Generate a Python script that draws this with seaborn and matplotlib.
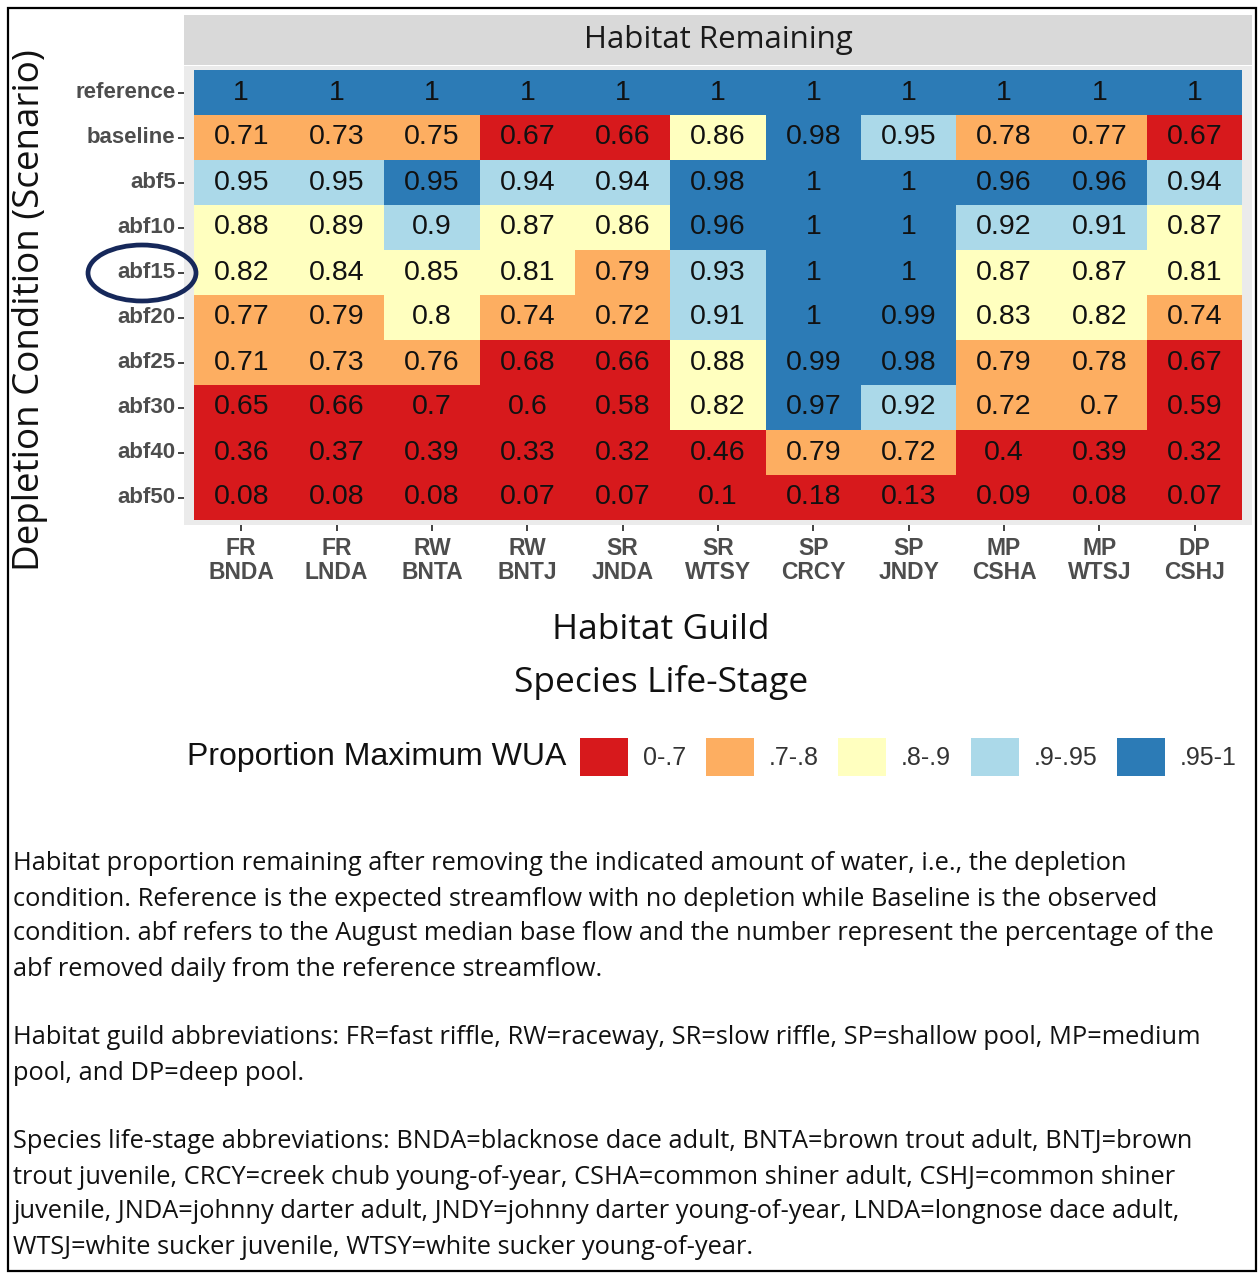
import numpy as np
import pandas as pd
import seaborn as sns
import matplotlib
matplotlib.use("Agg")
import matplotlib.pyplot as plt
from matplotlib.colors import ListedColormap
from matplotlib.patches import Patch, Ellipse, Rectangle

# ---------------- data ----------------
scenarios = ["reference", "baseline", "abf5", "abf10", "abf15", "abf20",
             "abf25", "abf30", "abf40", "abf50"]
guild_species = ["FR\nBNDA", "FR\nLNDA", "RW\nBNTA", "RW\nBNTJ", "SR\nJNDA",
                 "SR\nWTSY", "SP\nCRCY", "SP\nJNDY", "MP\nCSHA", "MP\nWTSJ",
                 "DP\nCSHJ"]

reference = [1, 1, 1, 1, 1, 1, 1, 1, 1, 1, 1]
baseline = [0.71, 0.73, 0.75, 0.67, 0.66, 0.86, 0.98, 0.95, 0.78, 0.77, 0.67]
abf5 = [0.95, 0.95, 0.95, 0.94, 0.94, 0.98, 1, 1, 0.96, 0.96, 0.94]
abf10 = [0.88, 0.89, 0.9, 0.87, 0.86, 0.96, 1, 1, 0.92, 0.91, 0.87]
abf15 = [0.82, 0.84, 0.85, 0.81, 0.79, 0.93, 1, 1, 0.87, 0.87, 0.81]
abf20 = [0.77, 0.79, 0.8, 0.74, 0.72, 0.91, 1, 0.99, 0.83, 0.82, 0.74]
abf25 = [0.71, 0.73, 0.76, 0.68, 0.66, 0.88, 0.99, 0.98, 0.79, 0.78, 0.67]
abf30 = [0.65, 0.66, 0.7, 0.6, 0.58, 0.82, 0.97, 0.92, 0.72, 0.7, 0.59]
abf40 = [0.36, 0.37, 0.39, 0.33, 0.32, 0.46, 0.79, 0.72, 0.4, 0.39, 0.32]
abf50 = [0.08, 0.08, 0.08, 0.07, 0.07, 0.1, 0.18, 0.13, 0.09, 0.08, 0.07]

# colour class of each cell as shown (0:0-.7, 1:.7-.8, 2:.8-.9, 3:.9-.95, 4:.95-1)
cls_reference = [4, 4, 4, 4, 4, 4, 4, 4, 4, 4, 4]
cls_baseline = [1, 1, 1, 0, 0, 2, 4, 3, 1, 1, 0]
cls_abf5 = [3, 3, 4, 3, 3, 4, 4, 4, 4, 4, 3]
cls_abf10 = [2, 2, 3, 2, 2, 4, 4, 4, 3, 3, 2]
cls_abf15 = [2, 2, 2, 2, 1, 3, 4, 4, 2, 2, 2]
cls_abf20 = [1, 1, 2, 1, 1, 3, 4, 4, 2, 2, 1]
cls_abf25 = [1, 1, 1, 0, 0, 2, 4, 4, 1, 1, 0]
cls_abf30 = [0, 0, 0, 0, 0, 2, 4, 3, 1, 1, 0]
cls_abf40 = [0, 0, 0, 0, 0, 0, 1, 1, 0, 0, 0]
cls_abf50 = [0, 0, 0, 0, 0, 0, 0, 0, 0, 0, 0]

class_labels = ["0-.7", ".7-.8", ".8-.9", ".9-.95", ".95-1"]
class_colors = ["#D7191C", "#FDAE61", "#FFFFBF", "#ABD9E9", "#2C7BB6"]

values = pd.DataFrame([reference, baseline, abf5, abf10, abf15, abf20,
                       abf25, abf30, abf40, abf50],
                      index=scenarios, columns=guild_species)
classes = pd.DataFrame([cls_reference, cls_baseline, cls_abf5, cls_abf10,
                        cls_abf15, cls_abf20, cls_abf25, cls_abf30,
                        cls_abf40, cls_abf50],
                       index=scenarios, columns=guild_species)
annot = values.map(lambda v: f"{v:g}")

caption_lines = [
    "Habitat proportion remaining after removing the indicated amount of water, i.e., the depletion",
    "condition. Reference is the expected streamflow with no depletion while Baseline is the observed",
    "condition. abf refers to the August median base flow and the number represent the percentage of the",
    "abf removed daily from the reference streamflow.",
    "Habitat guild abbreviations: FR=fast riffle, RW=raceway, SR=slow riffle, SP=shallow pool, MP=medium",
    "pool, and DP=deep pool.",
    "Species life-stage abbreviations: BNDA=blacknose dace adult, BNTA=brown trout adult, BNTJ=brown",
    "trout juvenile, CRCY=creek chub young-of-year, CSHA=common shiner adult, CSHJ=common shiner",
    "juvenile, JNDA=johnny darter adult, JNDY=johnny darter young-of-year, LNDA=longnose dace adult,",
    "WTSJ=white sucker juvenile, WTSY=white sucker young-of-year.",
]
caption_y = [864, 899, 934, 969, 1038, 1073, 1142, 1177, 1212, 1247]

# ---------------- figure ----------------
sns.set_theme(style="white")
plt.rcParams["font.family"] = ["Liberation Sans", "DejaVu Sans"]
OPEN = ["Open Sans", "DejaVu Sans"]

W, H = 1259, 1276
fig = plt.figure(figsize=(W / 100, H / 100), dpi=100)
fig.patch.set_facecolor("white")


def fx(px):
    return px / W


def fy(py):
    return 1 - py / H


# panel axes
pl, pr, pt, pb = 184, 1252, 65.5, 524.5
ax = fig.add_axes([fx(pl), fy(pb), fx(pr - pl), (pb - pt) / H])
ax.set_facecolor("#EBEBEB")

sns.heatmap(classes, ax=ax, cmap=ListedColormap(class_colors), vmin=-0.5,
            vmax=4.5, annot=annot, fmt="", cbar=False, linewidths=0,
            annot_kws={"fontsize": 20.5, "color": "#111111",
                       "family": ["Liberation Sans", "DejaVu Sans"]})
ax.set_xlim(-0.1, len(guild_species) + 0.1)
ax.set_ylim(len(scenarios) + 0.1, -0.1)
for s in ax.spines.values():
    s.set_visible(False)

ax.set_xticks(np.arange(len(guild_species)) + 0.5)
ax.set_xticklabels(guild_species, fontsize=16.5, fontweight="bold",
                   color="#4D4D4D", rotation=0, linespacing=1.05)
ax.set_yticks(np.arange(len(scenarios)) + 0.5)
ax.set_yticklabels(scenarios, fontsize=16, fontweight="bold",
                   color="#4D4D4D", rotation=0)
ax.tick_params(axis="both", which="both", length=4, width=1.3,
               color="#333333", pad=2, bottom=True, left=True)
ax.tick_params(axis="x", pad=5)
ax.set_xlabel("")
ax.set_ylabel("")

# strip
sax = fig.add_axes([fx(pl), fy(65), fx(pr - pl), (65 - 15) / H])
sax.set_facecolor("#D9D9D9")
sax.set_xticks([])
sax.set_yticks([])
for s in sax.spines.values():
    s.set_visible(False)
sax.text(0.5, 0.5, "Habitat Remaining", transform=sax.transAxes,
         ha="center", va="center", fontsize=22.5, color="#1A1A1A", family=OPEN)

# axis titles
fig.text(fx(30), fy(310), "Depletion Condition (Scenario)", rotation=90,
         ha="center", va="center", fontsize=26.5, color="#111111",
         family=OPEN)
fig.text(fx(661), fy(630), "Habitat Guild", ha="center", va="center",
         fontsize=25.5, color="#111111", family=OPEN)
fig.text(fx(661), fy(682), "Species Life-Stage", ha="center", va="center",
         fontsize=25.5, color="#111111", family=OPEN)

# legend
fig.text(fx(187), fy(757), "Proportion Maximum WUA", ha="left", va="center",
         fontsize=23, color="#111111")
handles = [Patch(facecolor=c, edgecolor="none") for c in class_colors]
fig.legend(handles, class_labels, loc="center left",
           bbox_to_anchor=(fx(580), fy(757)), ncol=5, frameon=False,
           fontsize=18, handlelength=1.92, handleheight=1.92,
           handletextpad=0.6, columnspacing=0.78, borderpad=0,
           borderaxespad=0, labelcolor="#333333")

# caption
for line, yy in zip(caption_lines, caption_y):
    fig.text(fx(13), fy(yy), line, ha="left", va="center", fontsize=18.3,
             color="#111111", family=OPEN)

# highlight ellipse around abf15
fig.add_artist(Ellipse((fx(142), fy(273)), width=fx(108), height=56 / H,
                       transform=fig.transFigure, fill=False,
                       edgecolor="#16285A", linewidth=3.4))

# outer border
fig.add_artist(Rectangle((fx(8), fy(1271)), fx(1248), (1271 - 8) / H,
                         transform=fig.transFigure, fill=False,
                         edgecolor="black", linewidth=1.6))

fig.savefig("out.png", dpi=100)
